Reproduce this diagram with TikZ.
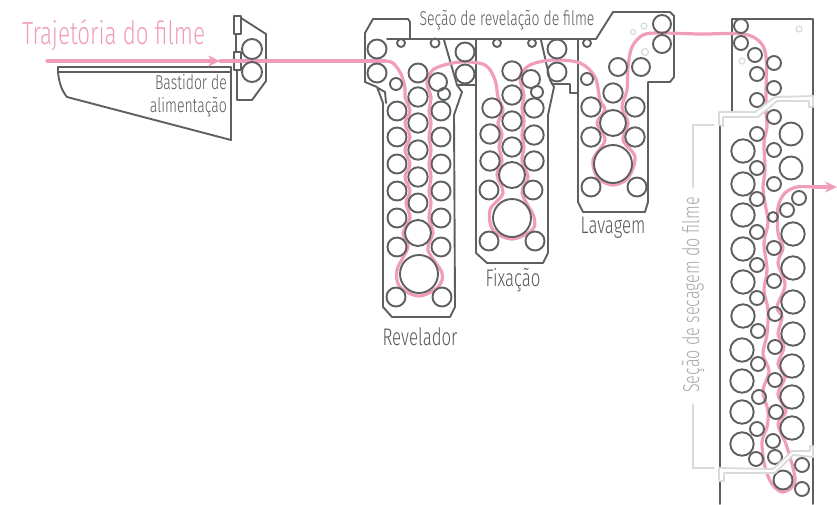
\documentclass[tikz,border=0pt]{standalone}
\usepackage{fontspec}
\usetikzlibrary{arrows.meta}
\setmainfont{Fira Sans Light}[FakeStretch=0.7]
\definecolor{framegray}{HTML}{5F5F63}
\definecolor{lightgray}{HTML}{D9DADC}
\definecolor{labelgray}{HTML}{58585C}
\definecolor{sidegray}{HTML}{A8A9AC}
\definecolor{filmpink}{HTML}{F09DBB}
\tikzset{
	frameline/.style={draw=framegray,line width=1.9pt},
	roller/.style={draw=framegray,line width=1.9pt},
	smallhole/.style={draw=lightgray,line width=1.2pt},
	breakline/.style={draw=lightgray,fill=white,line width=1.8pt},
	bracketline/.style={draw=lightgray,line width=1.9pt},
	filmline/.style={draw=filmpink,line width=3.2pt},
	tanklabel/.style={text=labelgray,font=\fontsize{24}{26}\selectfont,inner sep=0pt}
}
\begin{document}
\begin{tikzpicture}[x=1pt,y=-1pt, line join=round, line cap=round,>=stealth]
	\useasboundingbox (0,0) rectangle (837,504);
	% feed rack
	\draw[frameline] (58,67)--(231,67)--(231,72)--(58,72)--cycle;
	\draw[frameline] (58,72) .. controls (59,83) and (62,91) .. (67,97)--(231,140)--(231,72);
	\draw[frameline] (234,16) rectangle (241,34);
	\draw[frameline] (234,52) rectangle (241,70);
	\draw[frameline] (236,34)--(236,52);
	\draw[frameline] (241,18)--(266,34)--(266,81)--(252,100)--(237,100)--(237,70);
	% tanks
	\draw[frameline] (365,33)--(373,19)--(408,19)--(410,22)--(410,39);
	\draw[frameline] (387,39)--(596,39)--(613,12)--(670,12)--(674,16)--(674,77)--(670,82)--(648,82)--(648,202)--(645,212)--(583,212)--(578,202)--(578,39);
	\draw[frameline] (365,33)--(365,82)--(377,87)--(383,103)--(383,307)--(392,317)--(450,317)--(455,307)--(454,115)--(462,92)--(457,85)--(444,40);
	\draw[frameline] (378,88)--(385,92)--(386,103);
	\draw[frameline] (457,85)--(476,85);
	\draw[frameline] (476,39)--(476,253)--(487,263)--(543,263)--(548,253)--(548,115)--(554,87)--(550,80)--(541,40);
	\draw[frameline] (552,84)--(570,84)--(570,93)--(578,93);
	% dryer
	\draw[frameline] (732,112)--(732,19)--(813,19)--(813,97);
	\draw[frameline] (720,126)--(720,467);
	\draw[frameline] (720,482)--(720,504);
	\draw[frameline] (813,107)--(813,446);
	\draw[frameline] (813,457)--(813,504);
	% film path
	\coordinate (filmstart) at (47,61);
	\coordinate (filmarrow) at (220,61);
	\coordinate (filmend) at (837,187);
	\draw[filmline,-{Stealth[length=12pt,width=11pt]}] (filmstart)--(filmarrow);
	\draw[filmline] (filmarrow)--(300,61)--(385,61);
	\draw[filmline] plot[smooth,tension=.55] coordinates {(385,61) (393,63) (401,74) (405,88) (405,97) (410,111) (405,123) (410,137) (405,150) (410,164) (405,177) (410,191) (406,203) (410,218) (403,233) (408,247) (397,270) (400,287) (419,296) (438,287) (442,273) (428,250) (433,233) (429,218) (431,203) (429,191) (431,177) (429,164) (431,150) (429,137) (431,123) (429,111) (431,97) (427,83) (434,69) (460,62) (485,65) (495,80) (498,97) (503,110) (498,123) (502,134) (499,147) (502,161) (497,175) (503,193) (490,210) (493,230) (512,239) (532,230) (534,217) (522,193) (528,177) (522,161) (524,147) (522,135) (524,121) (522,108) (524,95) (520,77) (530,65) (553,60) (580,63) (595,77) (600,100) (605,110) (597,123) (605,140) (593,160) (598,178) (613,185) (628,178) (635,157) (623,140) (628,123) (622,107) (627,90) (628,67) (632,47) (643,35) (660,33) (700,34) (743,34) (760,42) (766,57) (766,93) (766,113) (767,127) (764,143) (765,170) (763,187) (765,203) (768,223) (764,243) (767,270) (764,290) (768,310) (767,334) (763,354) (769,371) (763,391) (768,411) (767,427) (762,442) (765,467) (772,484) (783,492) (795,481) (787,447) (778,424) (786,411) (778,394) (785,377) (778,364) (784,347) (778,334) (782,317) (777,307) (785,285) (778,263) (783,248) (778,233) (778,207) (785,193) (797,187) (813,187)};
	\draw[filmline,-{Stealth[length=12pt,width=11pt]}] (813,187)--(filmend);
	% rollers
	\foreach \x/\y/\r in {252/49/10,252/72/10,
		377/49/9.5,377/73/9.5,401/43/4,435/43/4.5,465/52/9.5,465/74/9.5,396/84/6,418/73/9.5,438/82/9,444/94/6,418/97/9.7,441/111/9.5,397/111/9.5,418/123/9.7,397/137/9.5,441/137/9.5,418/150/9.7,397/164/9.5,441/164/9.5,418/177/9.7,397/191/9.5,441/191/9.5,418/203/9.5,397/218/9.5,441/218/9.5,418/233/13,397/247/9.5,441/247/9.5,419/274/19,396/297/9.5,442/297/9.5,
		497/43/4,532/43/4,557/49/9.5,557/72/9.5,512/71/9.7,531/79/9,537/92/6,512/95/9.7,492/108/9.7,534/108/9.7,512/121/9.7,490/134/9.7,534/135/9.7,512/147/9.7,490/161/9.7,534/161/9.7,512/175/13,489/190/9.5,533/190/9.5,512/218/19,489/241/9.5,535/241/9.5,
		587/43/4,662/24/9,662/44/9,618/67/9,641/67/9,587/79/6,613/93/9.7,591/107/9.7,635/107/9.7,613/123/13,591/137/9.7,635/137/9.7,613/164/19,591/187/9.5,637/187/9.5,
		741/26/7,741/43/7,755/55/7,774/63/7,757/74/7,774/88/7,757/100/7,774/117/7,757/134/7,791/134/11.5,743/151/11.7,774/150/7,757/168/7,791/168/11.5,
		743/184/11.7,757/199/7,774/184/7,799/198/7,787/210/7,773/217/5,743/215/11.7,757/232/7,793/234/11.7,774/248/7,743/249/11.7,757/265/7,793/268/11.7,774/281/7,743/282/11.7,757/298/7,793/302/11.7,775/314/7,743/316/11.7,758/331/7,793/334/11.7,
		742/350/11.7,775/347/7,758/364/7,792/366/11.7,775/380/7,742/381/11.7,759/397/7,792/397/11.7,776/412/7,742/412/11.7,757/429/7,792/428/11.7,773/441/7,742/444/11.7,756/459/7,775/457/7,802/465/7,783/480/9.5,802/489/7}
		\draw[roller] (\x,\y) circle (\r);
	\foreach \x/\y/\r in {633/32/2.5,644/26/3,645/52/3.5,799/29/3,742/61/3}
		\draw[smallhole] (\x,\y) circle (\r);
	% break marks
	\draw[breakline] (719,125)--(719,112)--(755,112)--(775,97)--(813,96)--(813,107)--(809,107)--(809,101)--(777,101)--(758,117)--(723,117)--(723,126)--cycle;
	\draw[breakline] (719,468)--(719,481)--(724,481)--(724,473)--(775,473)--(793,455)--(813,457)--(813,446)--(810,446)--(810,451)--(792,451)--(773,469)--cycle;
	\coordinate (brackettop) at (714,125);
	\coordinate (bracketbottom) at (714,468);
	\draw[bracketline] (brackettop)--(693,125)--(693,187);
	\draw[bracketline] (693,404)--(693,468)--(bracketbottom);
	% labels
	\node[text=filmpink,font=\fontsize{32}{34}\selectfont,inner sep=0pt,anchor=west] (filmtitle) at (22,35) {Trajetória do filme};
	\node[tanklabel,font=\fontsize{20}{23}\selectfont,align=right,anchor=east] (feedlabel) at (227,96) {Bastidor de\\alimentação};
	\node[tanklabel,font=\fontsize{20}{22}\selectfont] (developsection) at (507,20) {Seção de revelação de filme};
	\node[tanklabel] (developer) at (420,337) {Revelador};
	\node[tanklabel] (fixer) at (513,280) {Fixação};
	\node[tanklabel] (wash) at (613,228) {Lavagem};
	\node[tanklabel,text=sidegray,font=\fontsize{23}{25}\selectfont,rotate=90] (dryersection) at (693,295) {Seção de secagem do filme};
\end{tikzpicture}
\end{document}
